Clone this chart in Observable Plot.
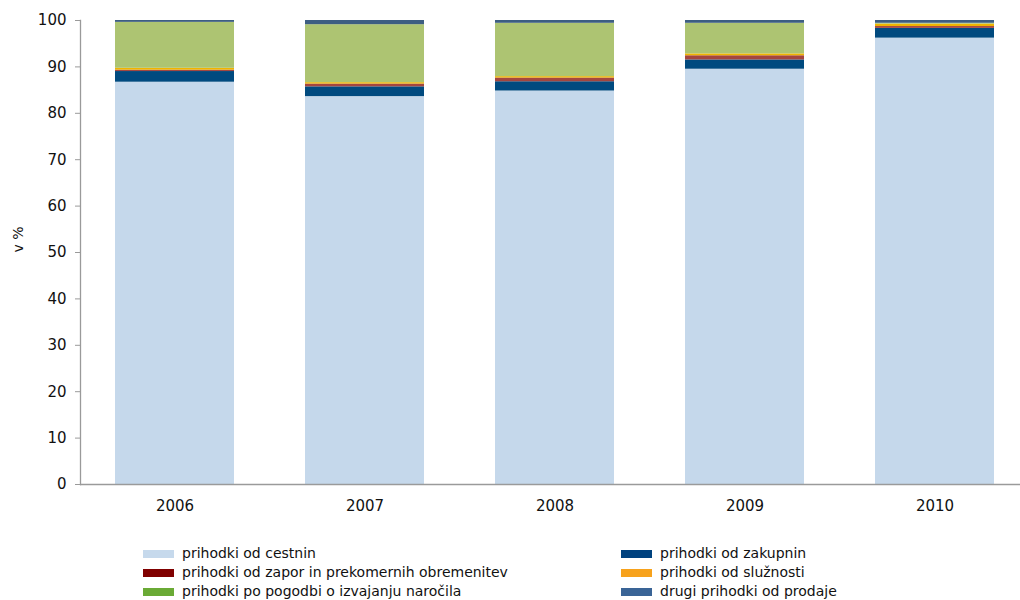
<!DOCTYPE html>
<html>
<head>
<meta charset="utf-8">
<script src="https://cdn.jsdelivr.net/npm/d3@7"></script>
<script src="https://cdn.jsdelivr.net/npm/@observablehq/plot@0.6"></script>
<style>
  html, body { margin: 0; padding: 0; background: #fff; overflow: hidden; }
  body { width: 1020px; height: 600px; position: relative; font-family: "DejaVu Sans", sans-serif; }
  #chart { position: absolute; left: 0; top: 0; }
  .legend { position: absolute; font-size: 14px; color: #111; }
  .item { position: absolute; white-space: nowrap; line-height: 19px; height: 19px; }
  .sw { position: absolute; top: 6px; width: 31px; height: 8px; }
  .lbl { position: absolute; left: 39px; top: 0; }
</style>
</head>
<body>
<div id="chart"></div>
<div id="legend"></div>
<script>
const years = ["2006", "2007", "2008", "2009", "2010"];
const seriesNames = [
  "prihodki od cestnin",
  "prihodki od zakupnin",
  "prihodki od zapor in prekomernih obremenitev",
  "prihodki od služnosti",
  "prihodki po pogodbi o izvajanju naročila",
  "drugi prihodki od prodaje"
];
const cestnin   = [86.7, 83.6, 84.8, 89.5, 96.2];
const zakupnin  = [2.3, 2.1, 2.0, 2.0, 2.1];
const zapor     = [0.3, 0.6, 0.8, 0.9, 0.4];
const sluznosti = [0.4, 0.3, 0.3, 0.4, 0.5];
const pogodbi   = [9.9, 12.5, 11.5, 6.6, 0.2];
const drugi     = [0.4, 0.9, 0.6, 0.6, 0.6];
const seriesValues = [cestnin, zakupnin, zapor, sluznosti, pogodbi, drugi];
const barColors = ["#c5d8eb", "#004a7f", "#a4463f", "#f0b400", "#adc472", "#3d5e82"];
const legendColors = ["#c6d9ec", "#00427f", "#800000", "#f7a21c", "#6aaa35", "#3a6496"];
const yTicks = [0, 10, 20, 30, 40, 50, 60, 70, 80, 90, 100];

const data = [];
seriesNames.forEach((s, i) => years.forEach((y, j) => data.push({year: y, series: s, value: seriesValues[i][j]})));

const chart = Plot.plot({
  width: 1020,
  height: 530,
  marginTop: 20,
  marginBottom: 46,
  marginLeft: 80,
  marginRight: 0,
  style: {fontFamily: "DejaVu Sans, sans-serif", fontSize: "15px", color: "#111", background: "#fff"},
  x: {domain: years, range: [80, 1029], paddingInner: 0.374, paddingOuter: 0.184, label: null},
  y: {domain: [0, 100], ticks: yTicks, label: null},
  color: {domain: seriesNames, range: barColors},
  marks: [
    Plot.barY(data, {x: "year", y: "value", fill: "series", order: seriesNames}),
    Plot.ruleY([0], {stroke: "#9a9a9a", strokeWidth: 1.3}),
    Plot.frame({anchor: "left", stroke: "#9a9a9a", strokeWidth: 1.3}),
    Plot.axisY({ticks: yTicks, tickSize: 5, tickPadding: 9, stroke: "#9a9a9a", label: null, fontSize: 15}),
    Plot.axisX({tickSize: 0, tickPadding: 16, label: null, fontSize: 15}),
    Plot.text(["v %"], {frameAnchor: "left", dx: -62, rotate: -90, fontSize: 14, fill: "#111"})
  ]
});
document.getElementById("chart").appendChild(chart);

const legend = document.getElementById("legend");
const cols = [143, 621];
const rows = [544, 563, 582];
const order = [0, 2, 4, 1, 3, 5];
order.forEach((si, k) => {
  const col = Math.floor(k / 3), row = k % 3;
  const it = document.createElement("div");
  it.className = "item legend";
  it.style.left = cols[col] + "px";
  it.style.top = rows[row] + "px";
  it.innerHTML = `<span class="sw" style="background:${legendColors[si]}"></span><span class="lbl">${seriesNames[si]}</span>`;
  legend.appendChild(it);
});
</script>
</body>
</html>
